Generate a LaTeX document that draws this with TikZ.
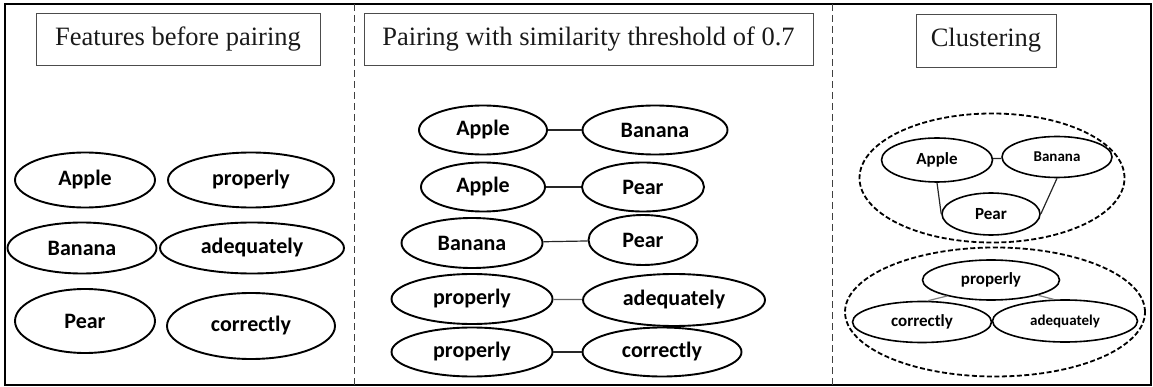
\documentclass[tikz,border=0pt]{standalone}
\usepackage{fontspec}
\setmainfont{Liberation Serif}
\newfontfamily\calfont{Carlito}
\usetikzlibrary{shapes.geometric}

\tikzset{
  titlebox/.style={draw=black!70, line width=0.9pt, inner sep=0pt,
    font=\fontsize{26.5}{30}\selectfont, text=black!90},
  feat/.style={ellipse, draw=black, line width=1.9pt, inner sep=0pt,
    font=\calfont\bfseries\fontsize{22}{24}\selectfont, text=black},
  smallfeat/.style={feat, line width=1.6pt, font=\calfont\bfseries\fontsize{17}{19}\selectfont},
  tinyfeat/.style={feat, line width=1.6pt, font=\calfont\bfseries\fontsize{15}{17}\selectfont},
  cluster/.style={ellipse, draw=black, line width=1.8pt, dash pattern=on 5pt off 2.5pt},
  divider/.style={draw=black!75, line width=1pt, dash pattern=on 7pt off 4pt},
  pair/.style={draw=black!85, line width=1.2pt},
}

\begin{document}
\begin{tikzpicture}[x=1pt, y=-1pt]
    \useasboundingbox (0,0) rectangle (1153,387);
    \draw[line width=1.8pt] (5,4) rectangle (1151,385);
    \coordinate (divAtop) at (354,4);
    \coordinate (divAbot) at (354,385);
    \coordinate (divBtop) at (832,4);
    \coordinate (divBbot) at (832,385);
    \draw[divider] (divAtop) -- (divAbot);
    \draw[divider] (divBtop) -- (divBbot);

    \node[titlebox, minimum width=284, minimum height=52] (title1) at (178,39) {Features before pairing};
    \node[titlebox, minimum width=449, minimum height=52] (title2) at (588.5,39) {Pairing with similarity threshold of 0.7};
    \node[titlebox, minimum width=140, minimum height=53] (title3) at (986,40.5) {Clustering};

    \node[feat, minimum width=140, minimum height=55] (appleL) at (85,180) {Apple};
    \node[feat, minimum width=166, minimum height=55] (properlyL) at (251,180) {properly};
    \node[feat, minimum width=149, minimum height=51] (bananaL) at (82,248) {Banana};
    \node[feat, minimum width=184, minimum height=51] (adequatelyL) at (252,248) {adequately};
    \node[feat, minimum width=140, minimum height=64] (pearL) at (85,321) {Pear};
    \node[feat, minimum width=168, minimum height=66] (correctlyL) at (251,326) {correctly};

    \node[feat, minimum width=128, minimum height=49] (appleA) at (483,130) {Apple};
    \node[feat, minimum width=145, minimum height=49] (bananaA) at (655,130) {Banana};
    \node[feat, minimum width=124, minimum height=49] (appleB) at (483,187) {Apple};
    \node[feat, minimum width=122, minimum height=49] (pearB) at (643,187) {Pear};
    \node[feat, minimum width=141, minimum height=50] (bananaC) at (472,243) {Banana};
    \node[feat, minimum width=109, minimum height=50] (pearC) at (643,240) {Pear};
    \node[feat, minimum width=161, minimum height=50] (properlyD) at (472,299) {properly};
    \node[feat, minimum width=182, minimum height=52] (adequatelyD) at (674,300) {adequately};
    \node[feat, minimum width=161, minimum height=49] (properlyE) at (472,352) {properly};
    \node[feat, minimum width=159, minimum height=49] (correctlyE) at (662,352) {correctly};
    \draw[pair] (appleA) -- (bananaA);
    \draw[pair] (appleB) -- (pearB);
    \draw[pair] (bananaC) -- (pearC);
    \draw[pair, draw=black!60] (properlyD) -- (adequatelyD);
    \draw[pair] (properlyE) -- (correctlyE);

    \node[cluster, minimum width=265, minimum height=129] (fruitCluster) at (992,178) {};
    \node[smallfeat, minimum width=111, minimum height=44] (appleR) at (937,160) {Apple};
    \node[tinyfeat, minimum width=110, minimum height=41] (bananaR) at (1057,157) {Banana};
    \node[smallfeat, minimum width=98, minimum height=42] (pearR) at (991,214) {Pear};
    \draw[pair] (appleR) -- (bananaR);
    \draw[pair] (appleR.south) -- (pearR.west);
    \draw[pair] (bananaR.south) -- (pearR.east);

    \node[cluster, minimum width=300, minimum height=129] (adverbCluster) at (995,312) {};
    \node[smallfeat, minimum width=137, minimum height=40] (properlyR) at (991,280) {properly};
    \node[smallfeat, minimum width=139, minimum height=41] (correctlyR) at (922,322) {correctly};
    \node[tinyfeat, minimum width=145, minimum height=42] (adequatelyR) at (1065,321) {adequately};
    \draw[pair, draw=black!50] (properlyR.200) -- (correctlyR.75);
    \draw[pair, draw=black!50] (properlyR.-18) -- (adequatelyR.117);
\end{tikzpicture}
\end{document}
